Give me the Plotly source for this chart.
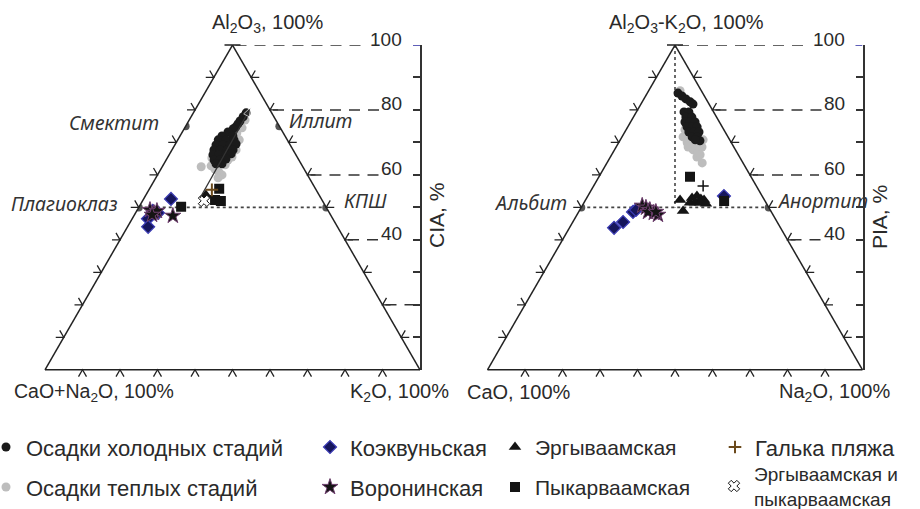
import math
import plotly.graph_objects as go

# ---------------- DATA ----------------
# Left diagram: Al2O3 (A) – CaO+Na2O (CN) – K2O (K), mol. %  (CN = 100 - A - K)
cold_L_A = [79.1, 77.9, 76.6, 75.7, 74.8, 74.2, 73.2, 72.0, 72.0, 70.8, 70.8, 70.8, 69.2, 69.2, 69.2,
            69.5, 67.7, 67.7, 67.7, 67.7, 66.2, 66.2, 66.2, 66.5, 64.6, 64.6, 64.9, 63.4, 63.4]
cold_L_K = [14.1, 13.9, 13.7, 13.6, 13.5, 13.1, 12.2, 11.2, 14.1, 10.8, 12.9, 15.0, 11.0, 12.9, 14.7,
            16.2, 11.2, 12.8, 14.7, 16.3, 11.7, 13.3, 15.2, 16.4, 12.8, 14.4, 15.8, 13.9, 15.5]
warm_L_A = [62.5, 62.8, 61.8, 60.9, 60.0, 59.1, 64.6, 65.5, 67.7, 70.8, 74.5, 76.9, 72.9, 63.1, 65.2]
warm_L_K = [10.4, 12.9, 14.4, 15.9, 17.2, 16.6, 16.5, 17.1, 17.1, 16.4, 15.3, 14.9, 14.7, 16.5, 11.9]
koekv_L_A = [52.6, 46.5, 44.0, 48.9, 48.3]
koekv_L_K = [7.3, 4.2, 5.5, 4.3, 6.0]
voron_L_A = [49.2, 48.3, 48.9, 47.7, 47.4]
voron_L_K = [3.4, 4.9, 5.4, 4.7, 10.4]
ergyv_L_A = [53.8]
ergyv_L_K = [16.0]
pykar_L_A = [50.2, 55.7, 52.3, 52.0]
pykar_L_K = [11.2, 18.6, 19.2, 20.9]
galka_L_A = [55.4]
galka_L_K = [16.8]
ergpyk_L_A = [52.0]
ergpyk_L_K = [16.4]
trend_L_A = [52.9, 80.9]
trend_L_K = [14.9, 14.5]
minerals_L = ["Смектит", "Иллит", "Плагиоклаз", "КПШ"]
minerals_L_A = [75, 75, 50, 50]
minerals_L_K = [0, 25, 0, 50]

# Right diagram: Al2O3-K2O (A) – CaO – Na2O (Na)   (CaO = 100 - A - Na)
cold_R_A = [85.2, 84.3, 83.4, 82.5, 81.8, 79.4, 79.4, 77.8, 77.8, 76.3, 76.3, 76.3, 74.8, 74.8, 74.8,
            73.2, 73.2, 73.2, 71.7, 71.7, 70.5, 70.8]
cold_R_Na = [8.2, 9.7, 11.2, 12.8, 13.9, 12.7, 14.0, 14.0, 15.6, 14.5, 15.8, 17.2, 15.8, 17.2, 18.5,
             17.1, 18.5, 19.8, 18.7, 20.0, 21.4, 20.0]
warm_R_A = [85.9, 71.7, 69.9, 67.7, 66.8, 63.7, 65.5, 68.6, 70.8, 68.6, 69.2, 66.2, 73.9]
warm_R_Na = [8.4, 16.3, 18.3, 21.0, 22.7, 25.4, 23.1, 22.9, 22.1, 19.2, 20.7, 23.6, 15.7]
koekv_R_A = [43.7, 45.5, 48.6, 49.2, 53.5]
koekv_R_Na = [11.9, 13.4, 14.5, 15.0, 36.3]
voron_R_A = [50.5, 49.9, 49.2, 48.3, 47.7, 48.6, 48.6]
voron_R_Na = [16.0, 17.3, 18.7, 20.2, 21.6, 18.5, 20.6]
ergyv_R_A = [52.3, 48.9, 52.9, 53.5, 52.6, 52.3, 51.4, 51.4, 51.4, 51.1]
ergyv_R_Na = [25.2, 27.7, 28.1, 29.1, 30.6, 31.6, 29.6, 31.0, 28.3, 32.7]
pykar_R_A = [59.4, 52.0]
pykar_R_Na = [24.3, 37.1]
galka_R_A = [56.6]
galka_R_Na = [29.2]
minerals_R = ["Альбит", "Анортит"]
minerals_R_A = [50, 50]
minerals_R_Na = [0, 50]

index_ticks = list(range(0, 101, 10))
index_labels = [100, 80, 60, 40]

# ---------------- GEOMETRY / STYLE ----------------
W, H = 920, 509
SIDE = 375.0
TH = SIDE * math.sqrt(3) / 2
TOP = 45.0
BASE = TOP + TH
X0 = {"L": 45.0, "R": 487.5}
FONT = "Liberation Sans, Arial, sans-serif"
TXT = "#2a2a2a"
LINE = "#222222"


def px(x):
    return x / W


def py(y):
    return 1 - y / H


def rest(a, k):
    return [round(100 - x - y, 2) for x, y in zip(a, k)]


fig = go.Figure()


def tern(a, c, subplot, **kw):
    fig.add_trace(go.Scatterternary(a=a, b=rest(a, c), c=c, subplot=subplot,
                                    hoverinfo="skip", **kw))


# left guide lines
tern([minerals_L_A[2], minerals_L_A[3]], [minerals_L_K[2], minerals_L_K[3]], "ternary",
     mode="lines", line=dict(color="#444", width=1.6, dash="dot"), showlegend=False)
tern(minerals_L_A, minerals_L_K, "ternary", mode="markers",
     marker=dict(size=8, color="#555"), showlegend=False)
# right guide lines
tern(minerals_R_A, minerals_R_Na, "ternary2",
     mode="lines", line=dict(color="#444", width=1.6, dash="dot"), showlegend=False)
tern([100, 50], [0, 25], "ternary2",
     mode="lines", line=dict(color="#444", width=1.6, dash="dot"), showlegend=False)
tern(minerals_R_A, minerals_R_Na, "ternary2", mode="markers",
     marker=dict(size=8, color="#555"), showlegend=False)

groups = [
    ("Осадки теплых стадий", "warm", dict(symbol="circle", size=9, color="#bdbdbd"), "legend2"),
    ("Осадки холодных стадий", "cold", dict(symbol="circle", size=9, color="#1b1b1b"), "legend"),
    ("Коэквуньская", "koekv", dict(symbol="diamond", size=10, color="#16165c",
                                    line=dict(color="#3b3bb5", width=1.2)), "legend3"),
    ("Воронинская", "voron", dict(symbol="star", size=12, color="#141414",
                                   line=dict(color="#6e3f6e", width=1)), "legend4"),
    ("Эргываамская", "ergyv", dict(symbol="triangle-up", size=11, color="#141414"), "legend5"),
    ("Пыкарваамская", "pykar", dict(symbol="square", size=10, color="#141414"), "legend6"),
    ("Галька пляжа", "galka", dict(symbol="cross-thin", size=9, color="#6b4a1c",
                                    line=dict(color="#6b4a1c", width=2)), "legend7"),
    ("Эргываамская и<br>пыкарваамская", "ergpyk", dict(symbol="x", size=10, color="white",
                                                      line=dict(color="#111", width=1)), "legend8"),
]
data = globals()
for name, key, mk, leg in groups:
    tern(data[f"{key}_L_A"], data[f"{key}_L_K"], "ternary", mode="markers", marker=mk,
         name=name, legendgroup=key, legend=leg, showlegend=True)
    if f"{key}_R_A" in data:
        mk_r = dict(mk)
        if key == "galka":
            mk_r = dict(symbol="cross-thin", size=8, color="#111", line=dict(color="#111", width=1.5))
        tern(data[f"{key}_R_A"], data[f"{key}_R_Na"], "ternary2", mode="markers", marker=mk_r,
             name=name, legendgroup=key, showlegend=False)

# trend arrow on the left diagram
tern(trend_L_A, trend_L_K, "ternary", mode="lines+markers",
     line=dict(color="#333", width=1.3),
     marker=dict(symbol=["circle", "arrow"], size=[0, 10], color="#333", angleref="previous"),
     showlegend=False)

# empty traces to create the index (CIA / PIA) axes
fig.add_trace(go.Scatter(x=[], y=[], xaxis="x", yaxis="y", showlegend=False, hoverinfo="skip"))
fig.add_trace(go.Scatter(x=[], y=[], xaxis="x2", yaxis="y2", showlegend=False, hoverinfo="skip"))

taxis = dict(showline=True, linecolor=LINE, linewidth=1.5, showgrid=False, showticklabels=False,
             ticks="", title=dict(text=""), min=0)


def tdom(x0):
    return dict(x=[px(x0), px(x0 + SIDE)], y=[py(BASE), py(TOP)])


yax = dict(domain=[py(BASE), py(TOP)], range=[0, 100], side="right", showline=True,
           linecolor="#333", linewidth=1.5, ticks="inside", ticklen=7, tickwidth=1.5,
           tickcolor="#333", tickvals=index_ticks, showticklabels=False, showgrid=False,
           zeroline=False, fixedrange=True, automargin=False)

fig.update_layout(
    width=W, height=H, margin=dict(l=0, r=0, t=0, b=0, autoexpand=False),
    paper_bgcolor="white", plot_bgcolor="rgba(0,0,0,0)",
    font=dict(family=FONT, color=TXT, size=20),
    ternary=dict(sum=100, domain=tdom(X0["L"]), bgcolor="rgba(0,0,0,0)",
                 aaxis=taxis, baxis=taxis, caxis=taxis),
    ternary2=dict(sum=100, domain=tdom(X0["R"]), bgcolor="rgba(0,0,0,0)",
                  aaxis=taxis, baxis=taxis, caxis=taxis),
    xaxis=dict(domain=[0, px(X0["L"] + SIDE)], range=[0, X0["L"] + SIDE], visible=False,
               anchor="y", fixedrange=True, automargin=False),
    yaxis=dict(anchor="x", **yax),
    xaxis2=dict(domain=[0, px(X0["R"] + SIDE)], range=[0, X0["R"] + SIDE], visible=False,
                anchor="y2", fixedrange=True, automargin=False),
    yaxis2=dict(anchor="x2", **yax),
    showlegend=True,
)

# legends (one per entry, laid out as in the original 4 x 2 grid)
leg_pos = {"legend": (-14, 447, 22, 1), "legend2": (-14, 487, 22, 1),
           "legend3": (310, 447, 22, 1), "legend4": (310, 487, 22, 1),
           "legend5": (495, 447, 21, 1), "legend6": (495, 487, 21, 1),
           "legend7": (715, 447, 22, 1), "legend8": (714, 486, 19, 2)}
for lg, (lx, yc, fs, nl) in leg_pos.items():
    h = fs * 1.3 * nl + 3
    top = yc - 5 - h / 2
    fig.layout[lg] = dict(x=px(lx), y=py(top), xanchor="left", yanchor="top",
                          bgcolor="rgba(0,0,0,0)", borderwidth=0,
                          font=dict(family=FONT, size=fs, color=TXT))

# chevron ticks on the triangle sides
shapes = []
S60 = math.sqrt(3) / 2
L = 8


def P(x, y):
    return f"{px(x):.5f},{py(y):.5f}"


for side_key in ("L", "R"):
    x0 = X0[side_key]
    A = (x0 + SIDE / 2, TOP)
    B = (x0, BASE)
    C = (x0 + SIDE, BASE)
    for k in range(1, 10):
        t = k / 10
        for (p0, p1, arms) in (
            (B, C, [(-0.5, S60), (0.5, S60)]),
            (B, A, [(-1, 0), (-0.5, -S60)]),
            (C, A, [(1, 0), (0.5, -S60)]),
        ):
            x = p0[0] + (p1[0] - p0[0]) * t
            y = p0[1] + (p1[1] - p0[1]) * t
            (u1, v1), (u2, v2) = arms
            path = f"M {P(x + L*u1, y + L*v1)} L {P(x, y)} L {P(x + L*u2, y + L*v2)}"
            shapes.append(dict(type="path", xref="paper", yref="paper", path=path,
                               line=dict(color=LINE, width=1.3), layer="above"))
    shapes.append(dict(type="line", xref="paper", yref="paper", x0=px(A[0] - 8), x1=px(A[0] + 8),
                       y0=py(TOP), y1=py(TOP), line=dict(color=LINE, width=1.5), layer="above"))

# dashed index guide lines + blue top tick
ends = {"L": {100: 367, 80: 381, 60: 379, 40: 381, 20: None},
        "R": {100: 810, 80: 823, 60: 819, 40: 823}}
for side_key, xr, yr in (("L", "x", "y"), ("R", "x2", "y2")):
    x0 = X0[side_key]
    ax_x = x0 + SIDE
    for lev, xe in ends[side_key].items():
        xs = x0 + SIDE / 2 + (100 - lev) / 100 * SIDE / 2 + 3
        shapes.append(dict(type="line", xref=xr, yref=yr, x0=xs, x1=(xe if xe else ax_x), y0=lev, y1=lev,
                           line=dict(color="#333", width=1.5, dash="11px,8px"), layer="above"))
    shapes.append(dict(type="line", xref=xr, yref=yr, x0=ax_x - 7, x1=ax_x, y0=100, y1=100,
                       line=dict(color="#2a2aa0", width=1.5), layer="above"))
fig.update_layout(shapes=shapes)

ann = []


def A_(text, x, y, xa="center", ya="middle", **kw):
    ann.append(dict(text=text, x=px(x), y=py(y), xref="paper", yref="paper", xanchor=xa,
                    yanchor=ya, showarrow=False, **kw))


A_("Al<sub>2</sub>O<sub>3</sub>, 100%", 267, 24)
A_("Al<sub>2</sub>O<sub>3</sub>-K<sub>2</sub>O, 100%", 686, 24)
A_("CaO+Na<sub>2</sub>O, 100%", 12, 392, xa="left", font=dict(size=19.5))
A_("K<sub>2</sub>O, 100%", 451, 392, xa="right")
A_("CaO, 100%", 465, 392, xa="left")
A_("Na<sub>2</sub>O, 100%", 892, 392, xa="right")
A_("CIA, %", 437, 216, textangle=-90, font=dict(size=21))
A_("PIA, %", 879, 217, textangle=-90, font=dict(size=21))
ital = dict(family="Noto Sans, sans-serif", size=19.5, color="#333")
for txt, x, y in (("Смектит", 114, 123), ("Иллит", 320, 121), ("Плагиоклаз", 64, 203),
                  ("КПШ", 365, 200), ("Альбит", 530, 202), ("Анортит", 822, 200)):
    A_(f"<i>{txt}</i>", x, y, font=ital)
for side_key, xr, yr in (("L", "x", "y"), ("R", "x2", "y2")):
    xr_lab = X0[side_key] + SIDE - 16
    for lev in index_labels:
        ann.append(dict(text=str(lev), x=xr_lab, y=lev, xref=xr, yref=yr, xanchor="right",
                        yanchor="middle", yshift=6, showarrow=False, font=dict(size=19)))
fig.update_layout(annotations=ann)

fig.write_html("out.html", config={"displayModeBar": False},
               post_script="document.body.style.margin='0px';document.body.style.overflow='hidden';")
